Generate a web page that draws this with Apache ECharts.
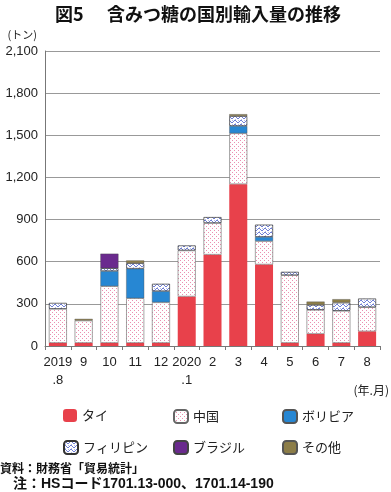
<!DOCTYPE html>
<html><head><meta charset="utf-8">
<script src="https://cdn.jsdelivr.net/npm/echarts@6/dist/echarts.min.js"></script>
<style>html,body{margin:0;padding:0;background:#fff}#c{width:391px;height:492px}</style>
</head><body><div id="c"></div>
<script>
const categories = ['2019\n.8','9','10','11','12','2020\n.1','2','3','4','5','6','7','8'];
const yTicks = [0,300,600,900,1200,1500,1800,2100];
const seriesNames = ['タイ','中国','ボリビア','フィリピン','ブラジル','その他'];
const thai      = [22, 22, 22, 22, 22, 352, 650, 1152, 580, 22, 86, 22, 104];
const china     = [242, 159, 404, 318, 289, 328, 225, 362, 167, 482, 171, 228, 172];
const bolivia   = [0, 0, 107, 210, 79, 0, 0, 52, 29, 0, 0, 0, 0];
const philippines = [43, 0, 21, 40, 53, 36, 43, 71, 88, 24, 36, 59, 62];
const brazil    = [0, 0, 103, 0, 0, 0, 0, 0, 0, 0, 0, 0, 0];
const other     = [0, 12, 0, 19, 0, 0, 0, 13, 0, 0, 23, 24, 0];

function dotPattern(){
  const c=document.createElement('canvas');c.width=4;c.height=4;
  const g=c.getContext('2d');g.fillStyle='#fff';g.fillRect(0,0,4,4);
  g.fillStyle='#eb8fb0';g.fillRect(0,0,1,1);g.fillRect(2,2,1,1);
  return {image:c,repeat:'repeat'};
}
function wavePattern(){
  const c=document.createElement('canvas');c.width=6;c.height=4;
  const g=c.getContext('2d');g.fillStyle='#fff';g.fillRect(0,0,6,4);
  g.fillStyle='#6f7fd6';
  g.fillRect(0,0,2,1);g.fillRect(2,1,1,1);g.fillRect(3,2,2,1);g.fillRect(5,1,1,1);
  g.fillStyle='#b4bde8';g.fillRect(1,3,1,1);g.fillRect(4,0,1,1);
  return {image:c,repeat:'repeat'};
}
const FONT='"Liberation Sans", Arial, "Noto Sans CJK JP", sans-serif';
const JP='"Noto Sans CJK JP", sans-serif';
const styles = [
  {color:'#e8414b'},
  {color:dotPattern(), borderColor:'#666', borderWidth:0.6},
  {color:'#2787d3', borderColor:'#555', borderWidth:0.4},
  {color:wavePattern(), borderColor:'#333', borderWidth:0.7},
  {color:'#6a2a8e', borderColor:'#444', borderWidth:0.4},
  {color:'#8c7d48', borderColor:'#555', borderWidth:0.4}
];
const dataArr=[thai,china,bolivia,philippines,brazil,other];
const series = seriesNames.map((n,i)=>({
  name:n,type:'bar',stack:'t',barWidth:18,
  itemStyle:styles[i],
  data:dataArr[i].map(v=>v===0?'-':v)
}));
const legendPos=[[63,409],[173,409],[282,409],[63,440],[173,440],[282,440]];
const legends = seriesNames.map((n,i)=>({
  left:legendPos[i][0],top:legendPos[i][1],data:[n],itemWidth:14,itemHeight:13,
  padding:0,textStyle:{fontFamily:JP,fontSize:13,color:'#222'},selectedMode:false
}));
const chart=echarts.init(document.getElementById('c'),null,{renderer:'canvas'});
chart.setOption({
  animation:false,
  grid:{left:45,right:11,top:51,bottom:146,containLabel:false},
  legend:legends,
  xAxis:{type:'category',data:categories,
    axisLine:{lineStyle:{color:'#777',width:1}},
    axisTick:{show:true,length:4,lineStyle:{color:'#777'}},
    axisLabel:{fontFamily:FONT,fontSize:13,color:'#222',lineHeight:18,margin:7,interval:0}},
  yAxis:{type:'value',min:yTicks[0],max:yTicks[yTicks.length-1],interval:300,
    axisLine:{show:true,lineStyle:{color:'#777'}},
    axisTick:{show:false},
    splitLine:{lineStyle:{color:'#999',width:1}},
    axisLabel:{fontFamily:FONT,fontSize:13,color:'#222',margin:7,
      formatter:v=>v.toLocaleString('en-US')}},
  series:series,
  graphic:[
    {type:'text',left:55,top:5,style:{text:'図5',font:'bold 18px '+JP,fill:'#111'}},
    {type:'text',left:107,top:5,style:{text:'含みつ糖の国別輸入量の推移',font:'bold 18px '+JP,fill:'#111'}},
    {type:'text',right:354,top:29,style:{text:'(トン)',font:'11px '+JP,fill:'#222'}},
    {type:'text',right:2,top:384,style:{text:'(年.月)',font:'12px '+JP,fill:'#222'}},
    {type:'text',left:0,top:462,style:{text:'資料：財務省「貿易統計」',font:'bold 12px '+JP,fill:'#111'}},
    {type:'text',left:13,top:477,style:{text:'注：HSコード1701.13-000、1701.14-190',font:'bold 14px "Liberation Sans", "Noto Sans CJK JP", sans-serif',fill:'#111'}}
  ]
});
</script></body></html>
